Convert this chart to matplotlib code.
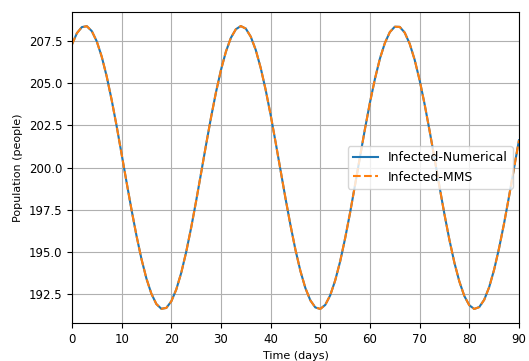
import matplotlib
matplotlib.use("Agg")
import matplotlib.pyplot as plt

# days 0..90, one value per day
days = list(range(0, 91))
infected_numerical = [
    207.30, 207.98, 208.34, 208.39, 208.10, 207.49, 206.58, 205.41, 204.01, 202.46,
    200.80, 199.13, 197.49, 195.95, 194.57, 193.41, 192.51, 191.90, 191.62, 191.67,
    192.06, 192.76, 193.75, 194.99, 196.43, 198.01, 199.67, 201.35, 202.97, 204.47,
    205.79, 206.88, 207.70, 208.21, 208.40, 208.25, 207.77, 206.99, 205.92, 204.62,
    203.13, 201.51, 199.84, 198.17, 196.58, 195.12, 193.86, 192.85, 192.12, 191.70,
    191.61, 191.85, 192.42, 193.30, 194.43, 195.80, 197.32, 198.97, 200.64, 202.30,
    203.86, 205.26, 206.46, 207.39, 208.04, 208.36, 208.35, 208.01, 207.35, 206.40,
    205.19, 203.77, 202.20, 200.54, 198.87, 197.23, 195.71, 194.36, 193.24, 192.38,
    191.83, 191.61, 191.72, 192.15, 192.90, 193.94, 195.22, 196.68, 198.28, 199.95,
    201.62,
]
# manufactured solution sits right on top of the numerical one
infected_mms = list(infected_numerical)

plt.rcParams['font.size'] = 8
plt.rcParams['xtick.labelsize'] = 8.5
plt.rcParams['ytick.labelsize'] = 8.5

fig = plt.figure(figsize=(5.29, 3.61), dpi=100)
ax = fig.add_axes([0.136, 0.105, 0.845, 0.862])
ax.plot(days, infected_numerical, color='C0', label='Infected-Numerical')
ax.plot(days, infected_mms, color='C1', linestyle='--', label='Infected-MMS')
ax.set_xlim(0, 90)
ax.set_xlabel('Time (days)')
ax.set_ylabel('Population (people)')
ax.grid(True)
ax.legend(loc='center right', fontsize=9)
fig.savefig('out.png', dpi=100)
